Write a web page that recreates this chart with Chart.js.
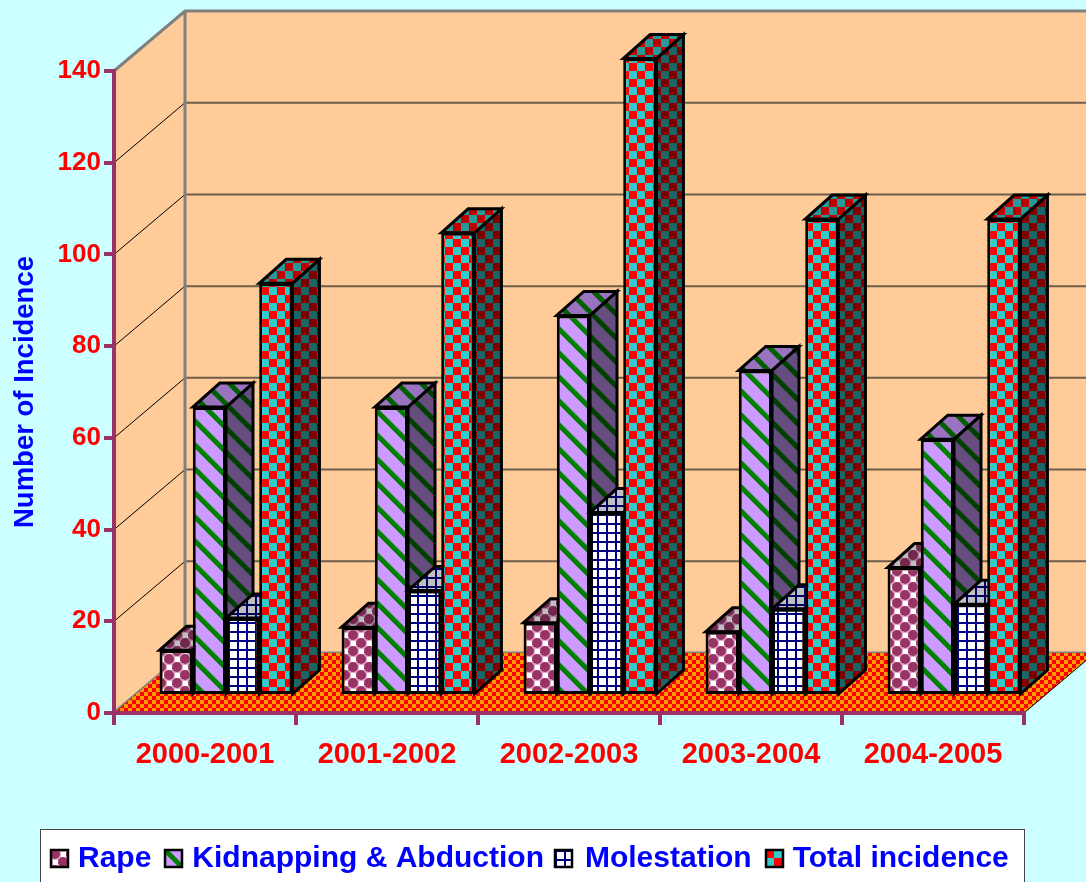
<!DOCTYPE html>
<html>
<head>
<meta charset="utf-8">
<title>Number of Incidence</title>
<script src="https://cdn.jsdelivr.net/npm/chart.js@4"></script>
<style>
html, body { margin: 0; padding: 0; background: #CCFFFF; overflow: hidden; }
canvas { display: block; }
</style>
</head>
<body>
<canvas id="incidenceChart" width="1086" height="882"></canvas>
<script>
const categories = ['2000-2001', '2001-2002', '2002-2003', '2003-2004', '2004-2005'];
const seriesNames = ['Rape', 'Kidnapping & Abduction', 'Molestation', 'Total incidence'];
const rape = [10, 15, 16, 14, 28];
const kidnapping = [63, 63, 83, 71, 56];
const molestation = [17, 23, 40, 19, 20];
const totalIncidence = [90, 101, 139, 104, 104];
const seriesValues = [rape, kidnapping, molestation, totalIncidence];

const fontFamily = '"Liberation Sans", sans-serif';
const axisColor = '#993366';

// 바 앞면을 바닥 안쪽으로 옮기는 거리, 바 자체의 깊이
const barShift = { x: 21, y: -17 };
const barDepth = { x: 27, y: -24 };
// 뒷벽까지의 거리
const wallDepth = { x: 71, y: -60 };

// 타일 패턴
function makePattern(tileSize, paint, shade) {
	const tile = document.createElement('canvas');
	tile.width = tileSize;
	tile.height = tileSize;
	const c = tile.getContext('2d');
	paint(c);
	if (shade < 1) {
		c.globalCompositeOperation = 'source-atop';
		c.fillStyle = `rgba(0,0,0,${1 - shade})`;
		c.fillRect(0, 0, tileSize, tileSize);
	}
	return c.createPattern(tile, 'repeat');
}

function paintBubbles(c) {
	c.fillStyle = '#DDB0CC';
	c.fillRect(0, 0, 16, 16);
	c.fillStyle = axisColor;
	[[4, 4], [12, 12], [-4, 12], [12, -4], [20, 4], [4, 20]].forEach(p => {
		c.beginPath();
		c.arc(p[0], p[1], 5, 0, Math.PI * 2);
		c.fill();
	});
	c.fillStyle = '#FFFFFF';
	c.fillRect(10, 2, 5, 5);
	c.fillRect(2, 10, 5, 5);
}

function paintStripes(c) {
	c.fillStyle = '#CC99FF';
	c.fillRect(0, 0, 24, 24);
	c.strokeStyle = '#008000';
	c.lineWidth = 5;
	for (let i = -24; i <= 24; i += 24) {
		c.beginPath();
		c.moveTo(i - 3, -3);
		c.lineTo(i + 27, 27);
		c.stroke();
	}
}

function paintGrid(c) {
	c.fillStyle = '#FFFFFF';
	c.fillRect(0, 0, 9, 9);
	c.fillStyle = '#000080';
	c.fillRect(0, 0, 2, 9);
	c.fillRect(0, 0, 9, 2);
}

function paintChecker(c) {
	c.fillStyle = '#33CCCC';
	c.fillRect(0, 0, 16, 16);
	c.fillStyle = '#FF0000';
	c.fillRect(0, 0, 8, 8);
	c.fillRect(8, 8, 8, 8);
}

function paintFloor(c) {
	c.fillStyle = '#FF9900';
	c.fillRect(0, 0, 8, 8);
	c.fillStyle = '#FF0000';
	c.fillRect(0, 0, 4, 4);
	c.fillRect(4, 4, 4, 4);
}

const painters = [paintBubbles, paintStripes, paintGrid, paintChecker];
const tileSizes = [16, 24, 9, 16];
const frontFill = painters.map((p, i) => makePattern(tileSizes[i], p, 1));
const topFill = painters.map((p, i) => makePattern(tileSizes[i], p, 0.75));
const sideFill = painters.map((p, i) => makePattern(tileSizes[i], p, 0.5));
const floorFill = makePattern(8, paintFloor, 1);

function polygon(ctx, pts, fill, stroke, width) {
	ctx.beginPath();
	pts.forEach((p, i) => i ? ctx.lineTo(p[0], p[1]) : ctx.moveTo(p[0], p[1]));
	ctx.closePath();
	if (fill) {
		ctx.fillStyle = fill;
		ctx.fill();
	}
	if (stroke) {
		ctx.strokeStyle = stroke;
		ctx.lineWidth = width;
		ctx.lineJoin = 'miter';
		ctx.stroke();
	}
}

// 벽, 바닥, 격자, 입체 바
const wallsPlugin = {
	id: 'walls',
	beforeDraw(chart) {
		const ctx = chart.ctx;
		const area = chart.chartArea;
		const y = chart.scales.y;
		const dx = wallDepth.x, dy = wallDepth.y;
		ctx.save();
		ctx.fillStyle = '#CCFFFF';
		ctx.fillRect(0, 0, chart.width, chart.height);

		// 옆벽, 뒷벽
		polygon(ctx, [[area.left, area.top], [area.left + dx, area.top + dy], [area.left + dx, area.bottom + dy], [area.left, area.bottom]], '#FFCC99');
		ctx.fillStyle = '#FFCC99';
		ctx.fillRect(area.left + dx, area.top + dy, chart.width, area.bottom - area.top);

		y.ticks.forEach(t => {
			if (t.value === 0 || t.value === y.max) return;
			const py = y.getPixelForValue(t.value);
			ctx.strokeStyle = '#000000';
			ctx.lineWidth = 1;
			ctx.beginPath();
			ctx.moveTo(area.left, py);
			ctx.lineTo(area.left + dx, py + dy);
			ctx.stroke();
			ctx.strokeStyle = '#6E5C4C';
			ctx.lineWidth = 2;
			ctx.beginPath();
			ctx.moveTo(area.left + dx, py + dy);
			ctx.lineTo(chart.width, py + dy);
			ctx.stroke();
		});

		// 회색 테두리
		ctx.strokeStyle = '#808080';
		ctx.lineWidth = 3;
		ctx.beginPath();
		ctx.moveTo(area.left, area.top);
		ctx.lineTo(area.left + dx, area.top + dy);
		ctx.lineTo(chart.width, area.top + dy);
		ctx.moveTo(area.left + dx, area.top + dy);
		ctx.lineTo(area.left + dx, area.bottom + dy);
		ctx.lineTo(chart.width, area.bottom + dy);
		ctx.moveTo(area.left + dx, area.bottom + dy);
		ctx.lineTo(area.left, area.bottom);
		ctx.stroke();

		// 바닥
		polygon(ctx, [[area.left, area.bottom], [area.right, area.bottom], [area.right + dx, area.bottom + dy], [area.left + dx, area.bottom + dy]], floorFill);
		ctx.strokeStyle = '#000000';
		ctx.lineWidth = 1;
		ctx.beginPath();
		ctx.moveTo(area.right, area.bottom);
		ctx.lineTo(area.right + dx, area.bottom + dy);
		ctx.stroke();
		ctx.restore();
	},
	// 차트는 뒤 데이터셋부터 그리므로 순서를 직접 잡는다
	beforeDatasetsDraw(chart) {
		const ctx = chart.ctx;
		const dx = barDepth.x, dy = barDepth.y;
		ctx.save();
		ctx.translate(barShift.x, barShift.y);
		seriesNames.forEach((name, k) => {
			const meta = chart.getDatasetMeta(k);
			meta.data.forEach(bar => {
				const p = bar.getProps(['x', 'y', 'base', 'width'], true);
				const l = p.x - p.width / 2, r = p.x + p.width / 2;
				polygon(ctx, [[r, p.y], [r + dx, p.y + dy], [r + dx, p.base + dy], [r, p.base]], sideFill[k], '#000000', 3);
				polygon(ctx, [[l, p.y], [l + dx, p.y + dy], [r + dx, p.y + dy], [r, p.y]], topFill[k], '#000000', 3);
			});
			meta.controller.draw();
		});
		ctx.restore();
		return false;
	}
};

// 범례 위치와 상자
const legendBox = { left: 40, top: 829, right: 1024, bottom: 884 };
const legendSwatchX = [51, 165, 555, 766];
const legendPlugin = {
	id: 'legendBox',
	afterLayout(chart) {
		const legend = chart.legend;
		legend.left = 37;
		legend.right = chart.width;
		legend.top = 831;
		legend.bottom = legendBox.bottom;
	},
	beforeDraw(chart) {
		const ctx = chart.ctx;
		const b = legendBox;
		ctx.save();
		ctx.fillStyle = '#FFFFFF';
		ctx.fillRect(b.left, b.top, b.right - b.left, b.bottom - b.top);
		ctx.strokeStyle = '#444444';
		ctx.lineWidth = 1;
		ctx.strokeRect(b.left + 0.5, b.top + 0.5, b.right - b.left, b.bottom - b.top);
		ctx.restore();
	},
	afterDraw(chart) {
		const ctx = chart.ctx;
		ctx.strokeStyle = '#000000';
		ctx.lineWidth = 2.5;
		legendSwatchX.forEach((x, i) => {
			ctx.save();
			ctx.translate(x, 850);
			ctx.fillStyle = frontFill[i];
			ctx.fillRect(0, 0, 17, 17);
			ctx.strokeRect(0, 0, 17, 17);
			ctx.restore();
		});
	}
};

new Chart(document.getElementById('incidenceChart'), {
	type: 'bar',
	data: {
		labels: categories,
		datasets: seriesNames.map((name, i) => ({
			label: name,
			data: seriesValues[i],
			backgroundColor: frontFill[i],
			borderColor: '#000000',
			borderWidth: 3,
			borderSkipped: false,
			clip: false,
			categoryPercentage: 0.73,
			barPercentage: 1
		}))
	},
	options: {
		responsive: false,
		animation: false,
		layout: { padding: { left: 0, right: 62, top: 71, bottom: 0 } },
		scales: {
			x: {
				afterFit: scale => { scale.height = 882 - 713 - scale.chart.legend.height; },
				border: { color: axisColor, width: 4 },
				grid: { drawOnChartArea: false, color: axisColor, tickColor: axisColor, tickLength: 12, lineWidth: 4 },
				ticks: { color: '#FF0000', padding: 13, maxRotation: 0, font: { family: fontFamily, size: 29, weight: 'bold' } }
			},
			y: {
				min: 0,
				max: 140,
				afterFit: scale => { scale.width = 114; },
				border: { color: axisColor, width: 4 },
				grid: { drawOnChartArea: false, color: axisColor, tickColor: axisColor, tickLength: 10, lineWidth: 4 },
				ticks: { stepSize: 20, color: '#FF0000', padding: 3, font: { family: fontFamily, size: 26, weight: 'bold' } },
				title: { display: true, text: 'Number of Incidence', color: '#0000FF', padding: { top: 9, bottom: 0 }, font: { family: fontFamily, size: 27.5, weight: 'bold' } }
			}
		},
		plugins: {
			tooltip: { enabled: false },
			legend: {
				position: 'bottom',
				align: 'start',
				labels: {
					color: '#0000FF',
					boxWidth: 13,
					boxHeight: 0,
					padding: 13,
					font: { family: fontFamily, size: 30, weight: 'bold' },
					generateLabels: chart => chart.data.datasets.map((d, i) => ({
						text: d.label,
						fontColor: '#0000FF',
						fillStyle: 'rgba(0,0,0,0)',
						strokeStyle: 'rgba(0,0,0,0)',
						lineWidth: 0,
						datasetIndex: i
					}))
				}
			}
		}
	},
	plugins: [wallsPlugin, legendPlugin]
});
</script>
</body>
</html>
